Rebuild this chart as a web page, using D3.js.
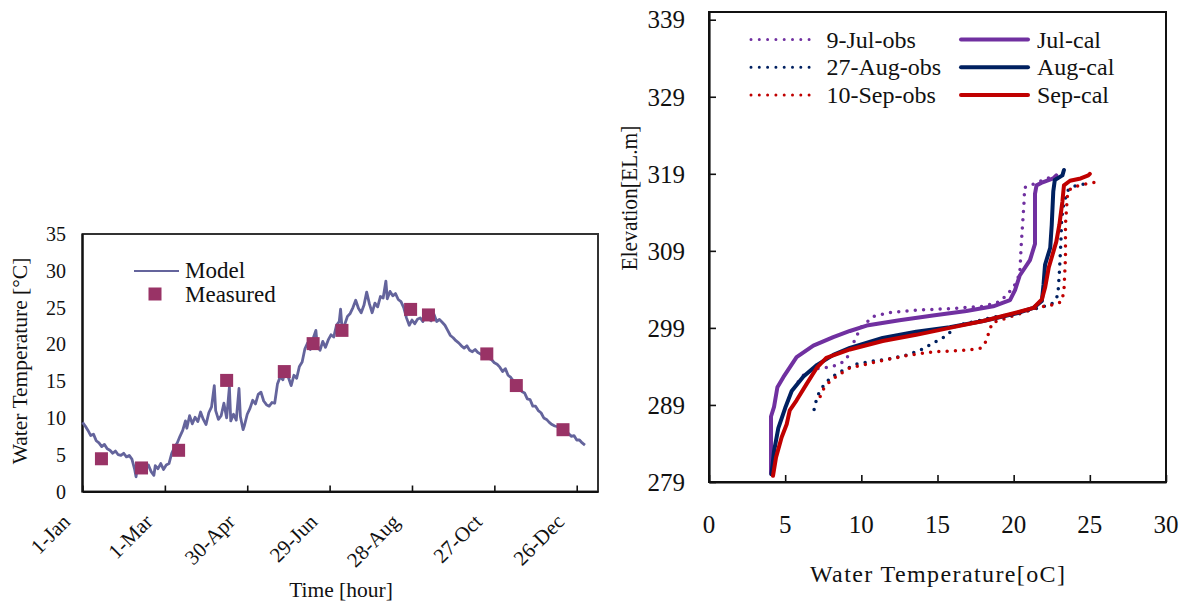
<!DOCTYPE html>
<html>
<head>
<meta charset="utf-8">
<script src="https://cdn.jsdelivr.net/npm/d3@7"></script>
<style>
  body { margin: 0; background: #fff; }
  text { font-family: 'Liberation Serif', 'Times New Roman', serif; fill: #111; }
</style>
</head>
<body>
<script>
// ---- left chart data (day of year, water temperature) ----
const modelDays = [0, 2, 4, 6, 8, 10, 12, 14, 16, 18, 20, 22, 24, 26, 28, 30, 32, 34, 36, 38, 39, 40, 42, 44, 46, 48, 50, 52, 53, 55, 57, 59, 61, 63, 65, 67, 69, 71, 73, 75, 76, 78, 80, 82, 84, 86, 88, 90, 92, 94, 96, 97, 99, 101, 103, 105, 107, 108, 110, 112, 114, 115, 117, 118, 120, 122, 124, 126, 128, 130, 132, 134, 136, 138, 140, 142, 144, 146, 148, 150, 152, 154, 156, 158, 160, 162, 164, 166, 168, 170, 171, 173, 175, 177, 179, 181, 183, 185, 187, 188, 189, 191, 193, 195, 197, 199, 201, 203, 205, 207, 209, 211, 213, 215, 217, 219, 221, 222, 224, 226, 228, 230, 232, 234, 236, 238, 240, 242, 244, 246, 248, 250, 252, 254, 256, 258, 260, 262, 264, 266, 268, 270, 272, 274, 276, 278, 280, 282, 284, 286, 288, 290, 292, 294, 296, 298, 300, 302, 304, 306, 308, 310, 312, 314, 316, 318, 320, 322, 324, 326, 328, 330, 332, 334, 336, 338, 340, 342, 344, 346, 348, 350, 352, 354, 356, 358, 360, 362, 364, 366];
const modelTemps = [9.4, 8.9, 8.3, 7.6, 7.8, 6.9, 6.6, 6.1, 6.4, 5.8, 5.6, 5.2, 5.5, 5.0, 4.9, 5.2, 4.7, 4.9, 4.4, 3.0, 2.0, 3.3, 2.6, 3.4, 3.0, 3.6, 2.7, 2.2, 3.5, 3.1, 3.8, 3.0, 3.6, 3.8, 5.2, 6.0, 6.6, 7.5, 8.3, 9.6, 8.6, 10.3, 9.2, 10.1, 9.5, 10.8, 9.8, 9.1, 10.7, 11.5, 14.4, 11.0, 9.8, 10.3, 12.0, 10.0, 14.2, 9.6, 10.5, 9.7, 14.0, 10.2, 8.4, 9.0, 10.5, 11.3, 12.4, 11.9, 13.2, 13.5, 12.3, 11.8, 11.6, 12.1, 12.0, 14.6, 15.6, 15.2, 16.8, 15.5, 14.4, 15.8, 15.4, 17.0, 17.6, 19.4, 20.2, 19.3, 20.8, 21.9, 19.8, 19.2, 20.4, 19.6, 20.6, 21.3, 21.0, 22.6, 23.1, 24.8, 22.3, 22.7, 23.8, 24.2, 25.0, 26.0, 24.9, 24.3, 25.3, 27.1, 25.5, 24.3, 25.6, 25.1, 26.5, 26.3, 28.6, 26.2, 27.2, 26.6, 26.9, 26.1, 25.8, 25.0, 23.6, 22.6, 23.3, 22.8, 23.4, 23.6, 23.1, 24.0, 23.5, 23.2, 24.1, 23.1, 23.4, 23.0, 22.6, 21.9, 21.2, 20.9, 20.5, 20.2, 19.8, 19.5, 19.8, 19.2, 19.0, 19.3, 18.9, 18.7, 18.4, 18.4, 18.1, 17.9, 17.5, 17.3, 16.9, 16.3, 16.7, 15.8, 15.5, 15.0, 14.5, 14.1, 13.6, 13.4, 12.6, 12.5, 11.6, 11.6, 11.0, 10.7, 10.0, 9.8, 9.4, 9.1, 8.9, 8.8, 8.5, 8.3, 7.9, 7.9, 7.5, 7.6, 7.0, 7.0, 6.6, 6.3];
const measuredDays = [13.8, 43, 70, 105, 147, 168, 189, 239, 252, 294.5, 316, 350];
const measuredTemps = [4.45, 3.2, 5.6, 15.1, 16.3, 20.1, 21.9, 24.75, 24.0, 18.7, 14.4, 8.4];
const xTickDays = [0, 60, 120, 180, 240, 300, 360];
const xTickLabels = ['1-Jan', '1-Mar', '30-Apr', '29-Jun', '28-Aug', '27-Oct', '26-Dec'];
const yTicksLeft = [0, 5, 10, 15, 20, 25, 30, 35];

// ---- right chart data ([temperature, elevation]) ----
const julObs = [[5.86, 292.0], [6.3, 293.1], [6.96, 293.7], [7.94, 293.9], [8.6, 294.3], [9.04, 295.0], [9.36, 296.5], [9.7, 298.0], [10.0, 299.1], [10.8, 300.5], [11.9, 301.0], [13.6, 301.3], [15.8, 301.5], [18.0, 301.8], [19.1, 302.4], [19.5, 303.2], [20.0, 304.3], [20.4, 306.0], [20.5, 309.9], [20.6, 312.9], [20.7, 315.9], [20.7, 317.2], [21.1, 317.5], [22.7, 318.8]];
const augObs = [[6.9, 288.4], [7.1, 290.1], [7.4, 291.2], [7.96, 292.5], [8.6, 293.3], [9.7, 294.3], [10.8, 294.7], [11.9, 295.0], [13.0, 295.5], [13.85, 296.1], [14.7, 297.0], [15.6, 298.0], [16.25, 299.3], [17.6, 299.9], [18.7, 300.4], [20.2, 300.9], [21.7, 301.6], [22.5, 302.1], [22.9, 303.2], [23.0, 306.2], [23.1, 310.1], [23.15, 313.1], [23.3, 315.3], [23.6, 317.0], [24.1, 317.5], [25.0, 317.8]];
const sepObs = [[7.3, 290.1], [7.55, 291.2], [7.96, 292.1], [8.5, 292.9], [9.25, 293.8], [10.35, 294.3], [11.7, 294.9], [13.0, 295.4], [14.7, 295.9], [16.9, 296.1], [17.9, 296.4], [18.2, 297.3], [18.4, 298.6], [18.6, 299.7], [19.1, 300.0], [20.2, 300.7], [21.5, 301.6], [22.6, 302.0], [23.15, 302.4], [23.3, 303.8], [23.4, 308.1], [23.4, 312.4], [23.5, 315.4], [23.55, 316.7], [23.9, 317.3], [24.8, 317.7], [25.6, 318.0]];
const julCal = [[4.07, 280.1], [4.07, 287.5], [4.27, 288.75], [4.49, 291.3], [4.88, 292.6], [5.75, 295.2], [6.85, 296.7], [8.16, 297.8], [9.25, 298.6], [10.35, 299.3], [12.5, 300.0], [14.7, 300.6], [16.9, 301.2], [18.66, 301.8], [19.76, 302.6], [20.09, 303.9], [20.4, 305.8], [21.07, 307.8], [21.4, 309.9], [21.4, 316.4], [21.5, 317.5], [21.9, 317.9], [22.6, 318.4], [22.8, 318.8]];
const augCal = [[4.1, 280.0], [4.27, 283.0], [4.55, 286.0], [5.0, 288.6], [5.43, 290.8], [6.2, 292.7], [7.1, 294.2], [8.16, 295.5], [9.25, 296.4], [11.4, 297.7], [13.6, 298.5], [15.8, 299.1], [18.0, 299.9], [20.2, 300.9], [21.3, 301.6], [21.85, 302.5], [21.96, 304.6], [22.06, 307.2], [22.4, 309.4], [22.5, 312.4], [22.6, 316.7], [22.7, 318.2], [23.2, 318.8], [23.3, 319.5]];
const sepCal = [[4.2, 279.8], [4.4, 282.2], [4.77, 284.8], [5.1, 286.5], [5.3, 288.3], [5.75, 289.6], [6.4, 291.7], [7.07, 293.8], [7.7, 295.1], [9.25, 296.2], [11.4, 297.3], [13.6, 298.1], [15.8, 299.0], [18.0, 299.9], [20.2, 301.0], [21.3, 301.6], [21.85, 302.7], [22.06, 304.2], [22.3, 306.8], [22.8, 310.2], [23.0, 312.4], [23.2, 315.4], [23.3, 317.5], [23.7, 318.1], [24.4, 318.4], [24.9, 318.8], [25.0, 319.0]];
const xTicksRight = [0, 5, 10, 15, 20, 25, 30];
const yTicksRight = [279, 289, 299, 309, 319, 329, 339];

(function(d3) {
  'use strict';

  const serif = "'Liberation Serif', 'Times New Roman', serif";

  const svg = d3.select('body').append('svg')
    .attr('width', 1188)
    .attr('height', 603)
    .attr('font-family', serif);

  // ===================== left: time series =====================
  const xL = d3.scaleLinear().domain([0, 375.5]).range([82.5, 598]);
  const yL = d3.scaleLinear().domain([0, 35]).range([491.5, 234]);

  const left = svg.append('g');

  left.append('rect')
    .attr('x', 82.5).attr('y', 234)
    .attr('width', 598 - 82.5).attr('height', 491.5 - 234)
    .attr('fill', 'none')
    .attr('stroke', '#333')
    .attr('stroke-width', 2);

  const xAxisL = left.append('g')
    .attr('transform', 'translate(0,491.5)')
    .call(d3.axisBottom(xL).tickValues(xTickDays).tickSize(-6).tickSizeOuter(0).tickFormat(''));
  xAxisL.select('.domain').attr('stroke', '#111').attr('stroke-width', 2.2);
  xAxisL.selectAll('.tick line').attr('stroke', '#111').attr('stroke-width', 1.6);

  left.append('line')
    .attr('x1', 82.5).attr('x2', 82.5).attr('y1', 234).attr('y2', 492.5)
    .attr('stroke', '#111').attr('stroke-width', 2.2);

  left.selectAll('.xlab').data(xTickDays)
    .enter().append('text')
    .attr('class', 'xlab')
    .attr('transform', d => `translate(${xL(d) - 11},523) rotate(-45)`)
    .attr('text-anchor', 'end')
    .attr('font-size', 21)
    .text((d, i) => xTickLabels[i]);

  left.selectAll('.ylab').data(yTicksLeft)
    .enter().append('text')
    .attr('class', 'ylab')
    .attr('x', 66)
    .attr('y', d => yL(d))
    .attr('dy', '0.35em')
    .attr('text-anchor', 'end')
    .attr('font-size', 20)
    .text(d => d);

  left.append('text')
    .attr('transform', 'translate(27,361) rotate(-90)')
    .attr('text-anchor', 'middle')
    .attr('font-size', 21.5)
    .text('Water Temperature [°C]');

  left.append('text')
    .attr('x', 341).attr('y', 597)
    .attr('text-anchor', 'middle')
    .attr('font-size', 21.5)
    .text('Time [hour]');

  const modelLine = d3.line()
    .x((d, i) => xL(modelDays[i]))
    .y(d => yL(d));

  left.append('path')
    .attr('d', modelLine(modelTemps))
    .attr('fill', 'none')
    .attr('stroke', '#64649c')
    .attr('stroke-width', 2.8)
    .attr('stroke-linejoin', 'round');

  left.selectAll('.meas').data(measuredTemps)
    .enter().append('rect')
    .attr('class', 'meas')
    .attr('x', (d, i) => xL(measuredDays[i]) - 6.5)
    .attr('y', d => yL(d) - 6.5)
    .attr('width', 13).attr('height', 13)
    .attr('fill', '#993366');

  // legend
  left.append('line')
    .attr('x1', 134).attr('x2', 179).attr('y1', 271).attr('y2', 271)
    .attr('stroke', '#64649c').attr('stroke-width', 2);
  left.append('text')
    .attr('x', 185).attr('y', 278).attr('font-size', 23).text('Model');
  left.append('rect')
    .attr('x', 148.5).attr('y', 287.5).attr('width', 13).attr('height', 13)
    .attr('fill', '#993366');
  left.append('text')
    .attr('x', 185).attr('y', 302).attr('font-size', 23).text('Measured');

  // ===================== right: profiles =====================
  const xR = d3.scaleLinear().domain([0, 30]).range([709, 1166]);
  const yR = d3.scaleLinear().domain([279, 340]).range([482, 12]);

  const right = svg.append('g');

  right.append('rect')
    .attr('x', 709).attr('y', 12)
    .attr('width', 1166 - 709).attr('height', 482 - 12)
    .attr('fill', 'none')
    .attr('stroke', '#111')
    .attr('stroke-width', 2);

  const xAxisR = right.append('g')
    .attr('transform', 'translate(0,482)')
    .call(d3.axisBottom(xR).tickValues(xTicksRight).tickSize(-7).tickSizeOuter(0).tickFormat(''));
  xAxisR.select('.domain').attr('stroke', '#111').attr('stroke-width', 2.2);
  xAxisR.selectAll('.tick line').attr('stroke', '#111').attr('stroke-width', 1.6);

  const yAxisR = right.append('g')
    .attr('transform', 'translate(709,0)')
    .call(d3.axisLeft(yR).tickValues(yTicksRight).tickSize(-7).tickSizeOuter(0).tickFormat(''));
  yAxisR.select('.domain').attr('stroke', '#111').attr('stroke-width', 2.2);
  yAxisR.selectAll('.tick line').attr('stroke', '#111').attr('stroke-width', 1.6);

  right.selectAll('.xlab').data(xTicksRight)
    .enter().append('text')
    .attr('class', 'xlab')
    .attr('x', d => xR(d))
    .attr('y', 533)
    .attr('text-anchor', 'middle')
    .attr('font-size', 25)
    .text(d => d);

  right.selectAll('.ylab').data(yTicksRight)
    .enter().append('text')
    .attr('class', 'ylab')
    .attr('x', 685)
    .attr('y', d => yR(d))
    .attr('dy', '0.35em')
    .attr('text-anchor', 'end')
    .attr('font-size', 25)
    .text(d => d);

  right.append('text')
    .attr('transform', 'translate(637,198) rotate(-90)')
    .attr('text-anchor', 'middle')
    .attr('font-size', 23)
    .attr('textLength', 145)
    .attr('lengthAdjust', 'spacingAndGlyphs')
    .text('Elevation[EL.m]');

  right.append('text')
    .attr('x', 937.5).attr('y', 582)
    .attr('text-anchor', 'middle')
    .attr('font-size', 24)
    .attr('textLength', 255)
    .attr('lengthAdjust', 'spacing')
    .text('Water Temperature[oC]');

  const profileLine = d3.line()
    .x(d => xR(d[0]))
    .y(d => yR(d[1]));

  const series = [
    { name: '9-Jul-obs', data: julObs, color: '#7030a0', dotted: true },
    { name: '27-Aug-obs', data: augObs, color: '#002060', dotted: true },
    { name: '10-Sep-obs', data: sepObs, color: '#c00000', dotted: true },
    { name: 'Jul-cal', data: julCal, color: '#7030a0', dotted: false },
    { name: 'Aug-cal', data: augCal, color: '#002060', dotted: false },
    { name: 'Sep-cal', data: sepCal, color: '#c00000', dotted: false }
  ];

  const styleLine = (sel, s) => {
    sel.attr('fill', 'none')
      .attr('stroke', s.color)
      .attr('stroke-linejoin', 'round')
      .attr('stroke-linecap', 'round')
      .attr('stroke-width', s.dotted ? 3.5 : 4)
      .attr('stroke-dasharray', s.dotted ? '0,8.3' : null);
  };

  series.forEach(s => {
    right.append('path')
      .attr('d', profileLine(s.data))
      .call(styleLine, s);
  });

  // legend
  series.forEach((s, i) => {
    const col = i < 3 ? 0 : 1;
    const row = i % 3;
    const lx = col === 0 ? 751 : 961;
    const ly = 39.5 + row * 27.7;
    right.append('path')
      .attr('d', `M${lx},${ly}H${lx + (col === 0 ? 61 : 67)}`)
      .call(styleLine, s)
      .attr('stroke-width', s.dotted ? 3 : 4);
    right.append('text')
      .attr('x', col === 0 ? 826.5 : 1037)
      .attr('y', ly + 8)
      .attr('font-size', 24)
      .text(s.name);
  });

}(d3));
</script>
</body>
</html>
